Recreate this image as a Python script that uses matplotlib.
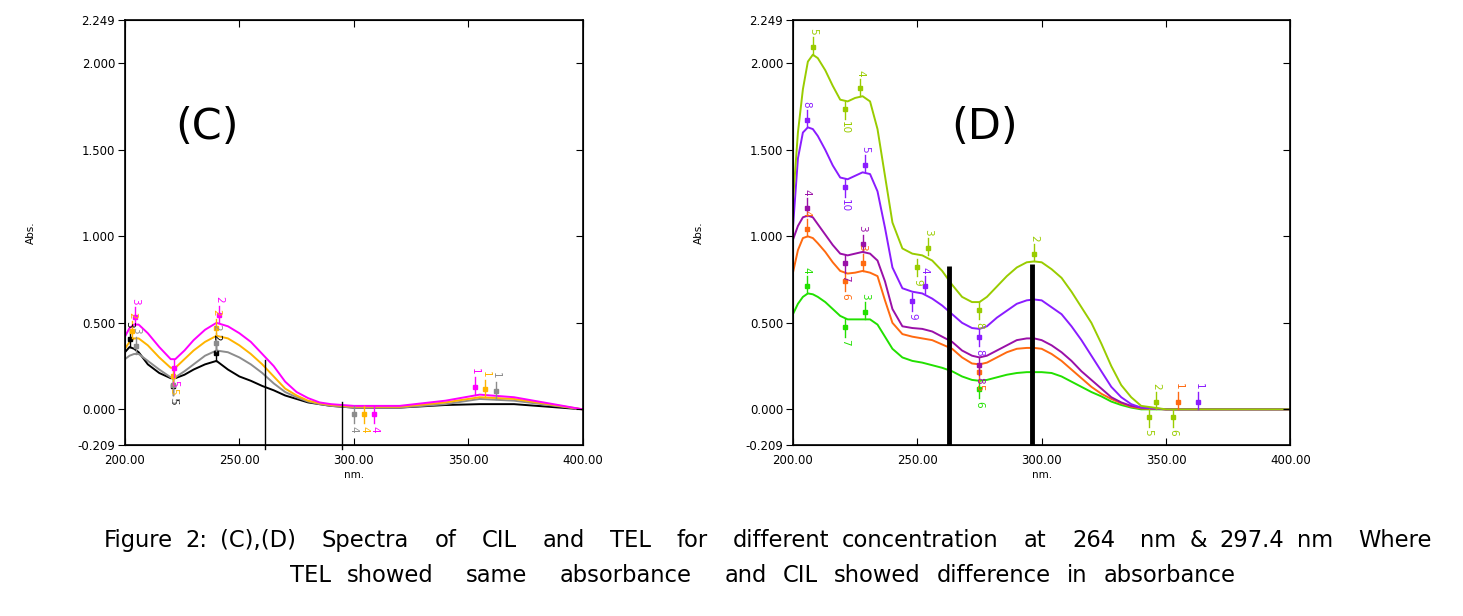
import numpy as np
import matplotlib
matplotlib.use("Agg")
import matplotlib.pyplot as plt

# ---- panel (C): CIL spectra ----
wl_c = [200, 202, 204, 206, 210, 215, 220, 222, 226, 230, 235, 240, 245, 250, 255,
        260, 265, 270, 275, 280, 285, 290, 300, 320, 340, 355, 370, 385, 400]
c_magenta = [0.42, 0.47, 0.49, 0.49, 0.44, 0.36, 0.29, 0.29, 0.34, 0.40, 0.46, 0.50, 0.48, 0.44, 0.39,
             0.32, 0.25, 0.16, 0.10, 0.065, 0.04, 0.03, 0.02, 0.02, 0.05, 0.085, 0.07, 0.035, 0.0]
c_gold = [0.35, 0.39, 0.41, 0.41, 0.37, 0.30, 0.24, 0.24, 0.29, 0.34, 0.39, 0.425, 0.41, 0.37, 0.32,
          0.26, 0.19, 0.12, 0.08, 0.05, 0.035, 0.025, 0.015, 0.015, 0.04, 0.07, 0.06, 0.03, 0.0]
c_gray = [0.29, 0.31, 0.32, 0.32, 0.28, 0.23, 0.185, 0.185, 0.22, 0.26, 0.31, 0.34, 0.33, 0.30, 0.26,
          0.21, 0.15, 0.10, 0.07, 0.045, 0.03, 0.02, 0.01, 0.01, 0.03, 0.06, 0.05, 0.025, 0.0]
c_black = [0.33, 0.36, 0.35, 0.33, 0.26, 0.21, 0.18, 0.18, 0.20, 0.23, 0.26, 0.28, 0.23, 0.19, 0.165,
           0.135, 0.11, 0.08, 0.06, 0.04, 0.03, 0.02, 0.01, 0.01, 0.025, 0.03, 0.03, 0.015, 0.0]

# peak-pick marks (wavelength, abs, label, side)
pk_c_magenta = [(204.5, 0.49, '3', 'up'), (241, 0.50, '2', 'up'), (221.5, 0.285, '5', 'down'),
                (353, 0.085, '1', 'up'), (309, 0.02, '4', 'down')]
pk_c_gold = [(203, 0.41, '2', 'up'), (240, 0.425, '2', 'up'), (221, 0.24, '5', 'down'),
             (357.5, 0.07, '1', 'up'), (304.5, 0.02, '4', 'down')]
pk_c_gray = [(205, 0.32, '3', 'up'), (240, 0.34, '2', 'up'), (221, 0.185, '5', 'down'),
             (362, 0.06, '1', 'up'), (300, 0.02, '4', 'down')]
pk_c_black = [(202, 0.36, '3', 'up'), (240, 0.28, '2', 'up'), (221, 0.18, '5', 'down')]
vlines_c = [(261.4, 0.285), (294.9, 0.04)]

# ---- panel (D): TEL spectra ----
wl_d = [200, 202, 204, 206, 208, 210, 213, 216, 219, 222, 225, 228, 231, 234, 237, 240, 244, 248,
        252, 256, 260, 264, 268, 272, 275, 278, 282, 286, 290, 294, 297, 300, 304, 308, 312, 316,
        320, 324, 328, 332, 336, 340, 350, 400]
d_yg = [1.20, 1.60, 1.85, 2.01, 2.05, 2.03, 1.96, 1.87, 1.79, 1.78, 1.80, 1.81, 1.78, 1.62, 1.35,
        1.08, 0.93, 0.90, 0.89, 0.86, 0.80, 0.72, 0.65, 0.62, 0.62, 0.65, 0.71, 0.77, 0.82, 0.85,
        0.855, 0.85, 0.81, 0.76, 0.68, 0.59, 0.50, 0.38, 0.25, 0.14, 0.07, 0.02, 0.0, 0.0]
d_violet = [1.05, 1.45, 1.60, 1.63, 1.62, 1.58, 1.50, 1.41, 1.34, 1.33, 1.35, 1.37, 1.36, 1.26, 1.05,
            0.82, 0.70, 0.68, 0.67, 0.64, 0.60, 0.55, 0.50, 0.47, 0.465, 0.48, 0.53, 0.57, 0.61, 0.63,
            0.635, 0.63, 0.59, 0.55, 0.48, 0.40, 0.31, 0.22, 0.13, 0.07, 0.03, 0.01, 0.0, 0.0]
d_purple = [0.98, 1.06, 1.11, 1.12, 1.11, 1.07, 1.01, 0.95, 0.90, 0.89, 0.90, 0.91, 0.90, 0.86, 0.74,
            0.58, 0.48, 0.47, 0.465, 0.45, 0.42, 0.39, 0.34, 0.31, 0.30, 0.31, 0.34, 0.37, 0.40, 0.41,
            0.41, 0.40, 0.37, 0.33, 0.28, 0.22, 0.17, 0.12, 0.07, 0.04, 0.02, 0.01, 0.0, 0.0]
d_orange = [0.79, 0.92, 0.99, 1.00, 0.99, 0.96, 0.91, 0.85, 0.80, 0.785, 0.79, 0.80, 0.79, 0.77, 0.63,
            0.50, 0.435, 0.42, 0.41, 0.40, 0.375, 0.35, 0.30, 0.265, 0.26, 0.27, 0.30, 0.33, 0.35, 0.355,
            0.355, 0.35, 0.32, 0.28, 0.23, 0.18, 0.13, 0.09, 0.06, 0.035, 0.015, 0.005, 0.0, 0.0]
d_green = [0.55, 0.61, 0.65, 0.67, 0.665, 0.65, 0.62, 0.58, 0.54, 0.52, 0.52, 0.52, 0.52, 0.49, 0.42,
           0.35, 0.30, 0.28, 0.27, 0.255, 0.24, 0.22, 0.19, 0.17, 0.165, 0.17, 0.185, 0.20, 0.21, 0.215,
           0.215, 0.215, 0.21, 0.19, 0.16, 0.13, 0.10, 0.075, 0.045, 0.025, 0.01, 0.0, 0.0, 0.0]

pk_d_yg = [(208, 2.05, '5', 'up'), (227, 1.81, '4', 'up'), (221, 1.78, '10', 'down'),
           (254.5, 0.89, '3', 'up'), (250, 0.87, '9', 'down'), (275, 0.62, '8', 'down'),
           (297, 0.855, '2', 'up'), (346, 0.0, '2', 'up'), (343, 0.0, '5', 'down'),
           (353, 0.0, '6', 'down')]
pk_d_violet = [(205.5, 1.63, '8', 'up'), (221, 1.33, '10', 'down'), (229, 1.37, '5', 'up'),
               (253, 0.67, '4', 'up'), (248, 0.67, '9', 'down'), (275, 0.465, '8', 'down'),
               (363, 0.0, '1', 'up')]
pk_d_purple = [(205.5, 1.12, '4', 'up'), (221, 0.89, '7', 'down'), (228, 0.91, '3', 'up'),
               (275, 0.30, '8', 'down')]
pk_d_orange = [(205.5, 1.00, '4', 'up'), (221, 0.785, '6', 'down'), (228, 0.80, '3', 'up'),
               (275, 0.26, '5', 'down'), (355, 0.0, '1', 'up')]
pk_d_green = [(205.5, 0.67, '4', 'up'), (221, 0.52, '7', 'down'), (229, 0.52, '3', 'up'),
              (275, 0.165, '6', 'down')]
vlines_d = [(262.8, 0.83), (296.3, 0.84)]

ymin, ymax = -0.209, 2.249
yticks = [-0.209, 0.0, 0.5, 1.0, 1.5, 2.0, 2.249]
ylabels = ['-0.209', '0.000', '0.500', '1.000', '1.500', '2.000', '2.249']
xticks = [200, 250, 300, 350, 400]

caption1 = 'Figure 2: (C),(D)  Spectra  of  CIL  and  TEL  for  different concentration  at  264  nm & 297.4 nm  Where'
caption2 = 'TEL showed  same  absorbance  and CIL showed difference in absorbance'


def peaks(ax, marks, color):
    for w, a, lab, side in marks:
        s = 1 if side == 'up' else -1
        ax.plot([w, w], [a, a + s * 0.10], color=color, lw=1.0)
        ax.plot(w, a + s * 0.045, 's', color=color, ms=3)
        ax.text(w, a + s * 0.115, lab, color=color, fontsize=7.5, rotation=-90,
                ha='center', va='bottom' if s > 0 else 'top')


def frame(ax, letter, lx):
    ax.set_xlim(200, 400)
    ax.set_ylim(ymin, ymax)
    ax.set_xticks(xticks)
    ax.set_xticklabels(['%.2f' % t for t in xticks], fontsize=8.5)
    ax.set_yticks(yticks)
    ax.set_yticklabels(ylabels, fontsize=8.5)
    ax.tick_params(axis='x', direction='in', top=True, length=5, pad=6)
    ax.tick_params(axis='y', direction='out', length=5, pad=2)
    for s in ax.spines.values():
        s.set_linewidth(1.2)
    tw = ax.twinx()
    tw.set_ylim(ymin, ymax)
    tw.set_yticks([0.0, 0.5, 1.0, 1.5, 2.0])
    tw.set_yticklabels([])
    tw.tick_params(direction='in', length=5)
    ax.set_xlabel('nm.', fontsize=7.5, labelpad=2)
    ax.set_ylabel('Abs.', fontsize=7.5, labelpad=30)
    ax.text(lx, 1.63, letter, fontsize=31, ha='center', va='center')


def justified(fig, text, x0, x1, y, size):
    # spread the words over x0..x1; a double space gets twice the gap of a single one
    r = fig.canvas.get_renderer()
    words, units = [], []
    n = 0
    for tok in text.split(' '):
        if tok == '':
            n += 1
            continue
        words.append(tok)
        units.append(n)
        n = 1
    units[0] = 0
    items = [fig.text(0, y, w, fontsize=size, ha='left', va='center') for w in words]
    W = fig.bbox.width
    widths = [t.get_window_extent(r).width / W for t in items]
    unit = (x1 - x0 - sum(widths)) / sum(units)
    x = x0
    for t, w, u in zip(items, widths, units):
        x += u * unit
        t.set_x(x)
        x += w


fig = plt.figure(figsize=(14.63, 6.16), dpi=100)
axC = fig.add_axes([0.0854, 0.2768, 0.3129, 0.6903])
axD = fig.add_axes([0.5420, 0.2768, 0.3400, 0.6903])

frame(axC, '(C)', 236)
frame(axD, '(D)', 277)

for y, col in [(c_black, 'black'), (c_gray, '#8c8c8c'), (c_gold, '#ffb400'), (c_magenta, '#ff00ff')]:
    axC.plot(wl_c, y, color=col, lw=1.4)
for m, col in [(pk_c_black, 'black'), (pk_c_gray, '#8c8c8c'), (pk_c_gold, '#ffb400'),
               (pk_c_magenta, '#ff00ff')]:
    peaks(axC, m, col)
for w, top in vlines_c:
    axC.plot([w, w], [ymin - 0.02, top], color='black', lw=1.0, clip_on=False)

for y, col in [(d_green, '#22e000'), (d_orange, '#ff6a10'), (d_purple, '#9a10a8'),
               (d_violet, '#8a1cff'), (d_yg, '#99cc00')]:
    axD.plot(wl_d, y, color=col, lw=1.4)
for m, col in [(pk_d_green, '#22e000'), (pk_d_orange, '#ff6a10'), (pk_d_purple, '#9a10a8'),
               (pk_d_violet, '#8a1cff'), (pk_d_yg, '#99cc00')]:
    peaks(axD, m, col)
for w, top in vlines_d:
    axD.plot([w, w], [ymin, top], color='black', lw=3.5, solid_capstyle='butt')

justified(fig, caption1, 104 / 1463, 1432 / 1463, 0.123, 16.3)
justified(fig, caption2, 290 / 1463, 1236 / 1463, 0.066, 16.3)

fig.savefig('out.png', dpi=100)
